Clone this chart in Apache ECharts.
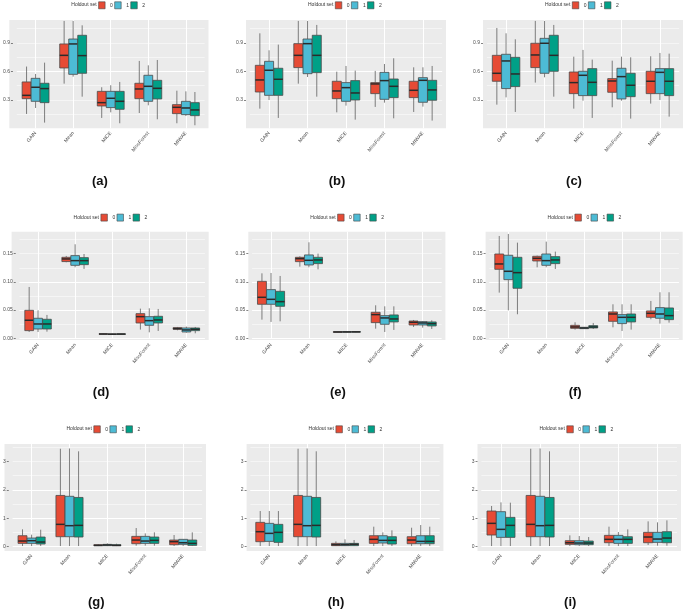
<!DOCTYPE html>
<html>
<head>
<meta charset="utf-8">
<script src="https://cdn.jsdelivr.net/npm/echarts@6/dist/echarts.min.js"></script>
<style>
  html, body { margin: 0; padding: 0; background: #fff; }
  #chart { width: 683px; height: 610px; }
</style>
</head>
<body>
<div id="chart"></div>
<script>
const methods = ['GAIN', 'Mean', 'MICE', 'MissForest', 'MIWAE'];
const holdoutSets = ['0', '1', '2'];
const setColors = ['#E64B35', '#4DBBD5', '#00A087'];
const panelLabels = ['(a)', '(b)', '(c)', '(d)', '(e)', '(f)', '(g)', '(h)', '(i)'];

// tick labels per row of panels
const ticksRow1 = [0.3, 0.6, 0.9];
const ticksRow2 = [0, 0.05, 0.10, 0.15];
const ticksRow3 = [0, 1, 2, 3];

// each panel: one list per holdout set, one box per method
// box = [lower whisker, Q1, median, Q3, upper whisker]
const boxesA = [
  [[0.151,0.312,0.347,0.488,0.650],[0.470,0.635,0.768,0.888,1.130],[0.109,0.235,0.270,0.389,0.432],[0.161,0.312,0.414,0.474,0.709],[0.053,0.154,0.221,0.249,0.396]],
  [[0.214,0.284,0.432,0.526,0.572],[0.544,0.568,0.888,0.940,1.130],[0.168,0.218,0.316,0.389,0.453],[0.242,0.284,0.442,0.558,0.663],[0.130,0.144,0.214,0.284,0.389]],
  [[0.060,0.270,0.418,0.474,0.691],[0.333,0.579,0.765,0.979,1.084],[0.053,0.200,0.284,0.389,0.488],[0.095,0.309,0.421,0.505,0.719],[0.032,0.133,0.193,0.270,0.382]]
];
const boxesB = [
  [[0.207,0.382,0.509,0.663,1.000],[0.470,0.639,0.768,0.891,1.130],[0.168,0.312,0.393,0.495,0.596],[0.225,0.365,0.467,0.481,0.604],[0.172,0.323,0.400,0.495,0.642]],
  [[0.298,0.347,0.611,0.705,0.821],[0.540,0.575,0.891,0.940,1.130],[0.239,0.284,0.428,0.481,0.656],[0.270,0.305,0.502,0.589,0.677],[0.228,0.274,0.505,0.533,0.642]],
  [[0.109,0.347,0.516,0.632,0.881],[0.333,0.586,0.768,0.979,1.088],[0.091,0.298,0.372,0.502,0.607],[0.105,0.323,0.442,0.519,0.737],[0.081,0.295,0.404,0.505,0.656]]
];
const boxesC = [
  [[0.249,0.495,0.579,0.768,1.056],[0.481,0.639,0.772,0.895,1.130],[0.207,0.365,0.481,0.593,0.754],[0.221,0.379,0.498,0.523,0.712],[0.260,0.365,0.495,0.600,0.758]],
  [[0.326,0.418,0.709,0.779,1.000],[0.537,0.579,0.895,0.947,1.130],[0.291,0.344,0.558,0.600,0.825],[0.291,0.309,0.544,0.632,0.754],[0.298,0.365,0.589,0.628,0.793]],
  [[0.172,0.439,0.572,0.747,0.937],[0.333,0.600,0.768,0.979,1.088],[0.109,0.344,0.484,0.628,0.723],[0.102,0.333,0.453,0.579,0.747],[0.123,0.344,0.495,0.628,0.786]]
];
const boxesD = [
  [[0.0112,0.0136,0.0320,0.0496,0.0910],[0.1348,0.1360,0.1407,0.1436,0.1460],[0.0068,0.0073,0.0076,0.0079,0.0084],[0.0154,0.0272,0.0384,0.0437,0.0526],[0.0142,0.0160,0.0171,0.0189,0.0201]],
  [[0.0112,0.0165,0.0254,0.0355,0.0496],[0.1259,0.1294,0.1377,0.1466,0.1667],[0.0065,0.0070,0.0073,0.0077,0.0082],[0.0106,0.0230,0.0313,0.0384,0.0532],[0.0100,0.0112,0.0148,0.0183,0.0207]],
  [[0.0118,0.0165,0.0254,0.0337,0.0414],[0.1230,0.1306,0.1377,0.1430,0.1495],[0.0066,0.0071,0.0075,0.0078,0.0083],[0.0130,0.0272,0.0325,0.0390,0.0520],[0.0089,0.0136,0.0160,0.0183,0.0201]]
];
const boxesE = [
  [[0.0331,0.0603,0.0727,0.1010,0.1152],[0.1270,0.1359,0.1412,0.1436,0.1454],[0.0104,0.0108,0.0112,0.0116,0.0120],[0.0171,0.0278,0.0420,0.0461,0.0585],[0.0201,0.0236,0.0284,0.0307,0.0325]],
  [[0.0290,0.0603,0.0691,0.0863,0.1158],[0.1259,0.1300,0.1383,0.1478,0.1702],[0.0105,0.0109,0.0113,0.0117,0.0121],[0.0112,0.0248,0.0361,0.0402,0.0567],[0.0189,0.0236,0.0272,0.0296,0.0307]],
  [[0.0301,0.0567,0.0650,0.0833,0.1105],[0.1223,0.1324,0.1389,0.1436,0.1501],[0.0106,0.0110,0.0114,0.0118,0.0122],[0.0148,0.0290,0.0343,0.0414,0.0567],[0.0165,0.0219,0.0260,0.0290,0.0319]]
];
const boxesF = [
  [[0.0810,0.1223,0.1318,0.1495,0.1814],[0.1259,0.1371,0.1418,0.1454,0.1466],[0.0154,0.0177,0.0201,0.0230,0.0284],[0.0195,0.0301,0.0431,0.0467,0.0603],[0.0337,0.0372,0.0443,0.0485,0.0662]],
  [[0.0496,0.1040,0.1188,0.1472,0.1850],[0.1259,0.1294,0.1377,0.1495,0.1714],[0.0165,0.0171,0.0183,0.0195,0.0201],[0.0130,0.0260,0.0372,0.0420,0.0603],[0.0260,0.0355,0.0431,0.0544,0.0816]],
  [[0.0426,0.0887,0.1164,0.1436,0.1696],[0.1229,0.1324,0.1389,0.1448,0.1537],[0.0165,0.0183,0.0201,0.0225,0.0272],[0.0154,0.0290,0.0372,0.0431,0.0603],[0.0278,0.0331,0.0402,0.0538,0.0816]]
];
const boxesG = [
  [[0.023,0.117,0.199,0.386,0.609],[0.023,0.351,0.785,1.800,3.440],[0.023,0.035,0.047,0.070,0.094],[0.035,0.105,0.234,0.363,0.656],[0.023,0.070,0.176,0.234,0.410]],
  [[0.023,0.117,0.211,0.304,0.422],[0.023,0.351,0.738,1.770,3.450],[0.023,0.035,0.059,0.082,0.117],[0.035,0.117,0.199,0.363,0.468],[0.023,0.082,0.140,0.258,0.270]],
  [[0.023,0.094,0.164,0.340,0.597],[0.023,0.340,0.749,1.730,3.350],[0.023,0.035,0.047,0.070,0.105],[0.035,0.117,0.222,0.340,0.504],[0.023,0.047,0.117,0.234,0.504]]
];
const boxesH = [
  [[0.023,0.176,0.527,0.855,1.253],[0.023,0.351,0.785,1.800,3.440],[0.023,0.035,0.070,0.117,0.187],[0.023,0.117,0.258,0.386,0.703],[0.023,0.105,0.234,0.351,0.667]],
  [[0.023,0.187,0.468,0.820,1.253],[0.023,0.351,0.738,1.770,3.450],[0.023,0.035,0.070,0.117,0.258],[0.023,0.129,0.222,0.386,0.504],[0.023,0.105,0.187,0.386,0.761]],
  [[0.023,0.152,0.504,0.785,1.253],[0.023,0.340,0.749,1.730,3.350],[0.023,0.035,0.082,0.117,0.234],[0.023,0.094,0.222,0.351,0.574],[0.023,0.105,0.187,0.386,0.703]]
];
const boxesI = [
  [[0.023,0.410,0.820,1.253,1.430],[0.023,0.351,0.785,1.800,3.440],[0.023,0.082,0.140,0.211,0.398],[0.023,0.140,0.258,0.398,0.703],[0.059,0.140,0.340,0.504,0.890]],
  [[0.023,0.328,0.609,1.230,1.557],[0.023,0.351,0.738,1.770,3.450],[0.023,0.070,0.129,0.211,0.375],[0.023,0.117,0.258,0.398,0.515],[0.035,0.152,0.269,0.504,0.855]],
  [[0.023,0.328,0.749,1.030,1.546],[0.023,0.340,0.749,1.730,3.350],[0.023,0.070,0.129,0.199,0.340],[0.023,0.117,0.258,0.351,0.609],[0.035,0.140,0.304,0.527,0.925]]
];

const panelBoxes = [boxesA, boxesB, boxesC, boxesD, boxesE, boxesF, boxesG, boxesH, boxesI];

// axis setup per row
const rowAxis = [
  { max: 1.14,  step: 0.3,  ticks: ticksRow1, digits: 1, minLine: false },
  { max: 0.189, step: 0.05, ticks: ticksRow2, digits: 2, minLine: true },
  { max: 3.607, step: 1,    ticks: ticksRow3, digits: 0, minLine: true }
];

// layout (pixels)
const rowLayout = [
  { top: 20,    bottom: 128.3, zero: 128.3, legendY: 5,     labelY: 181.5 },
  { top: 231.7, bottom: 340,   zero: 338.3, legendY: 217.3, labelY: 392.5 },
  { top: 444,   bottom: 551,   zero: 546.7, legendY: 429,   labelY: 602 }
];
const colLayout = [
  [[9.3, 208.5], [246, 446], [483, 683]],
  [[11.6, 208.7], [248.3, 445.4], [485.6, 682.7]],
  [[4.5, 206], [246.6, 443.4], [477.5, 681]]
];

const FONT = '"Liberation Sans", Arial, Helvetica, sans-serif';
const chart = echarts.init(document.getElementById('chart'));

function boxRenderer(k) {
  return function (params, api) {
    const m = api.value(0);
    const band = api.size([1, 0])[0];
    const xc = api.coord([m, 0])[0] + (k - 1) * 0.24 * band;
    const hw = 0.235 * band / 2;
    const y = [1, 2, 3, 4, 5].map(function (d) { return api.coord([m, api.value(d)])[1]; });
    const whisker = { stroke: '#5f5f5f', lineWidth: 0.8 };
    return {
      type: 'group',
      children: [
        { type: 'line', shape: { x1: xc, y1: y[0], x2: xc, y2: y[1] }, style: whisker },
        { type: 'line', shape: { x1: xc, y1: y[3], x2: xc, y2: y[4] }, style: whisker },
        { type: 'rect', shape: { x: xc - hw, y: y[3], width: 2 * hw, height: y[1] - y[3] },
          style: { fill: api.visual('color'), stroke: '#4a4a4a', lineWidth: 0.8 } },
        { type: 'line', shape: { x1: xc - hw, y1: y[2], x2: xc + hw, y2: y[2] },
          style: { stroke: '#2b2b2b', lineWidth: 1.5 } }
      ]
    };
  };
}

const grid = [], xAxis = [], yAxis = [], series = [], legend = [], graphic = [];

panelBoxes.forEach(function (boxes, i) {
  const row = Math.floor(i / 3), col = i % 3;
  const lr = colLayout[row][col];
  const l = lr[0], r = lr[1];
  const L = rowLayout[row], A = rowAxis[row];
  const inset = (r - l) / 52;

  // grey panel
  grid.push({ left: l, top: L.top, width: r - l, height: L.bottom - L.top,
    show: true, backgroundColor: '#EBEBEB', borderWidth: 0 });
  // data area
  const gi = grid.length;
  grid.push({ left: l + inset, top: L.top, width: r - l - 2 * inset, height: L.zero - L.top, show: false });

  xAxis.push({
    type: 'category', gridIndex: gi, data: methods, boundaryGap: true,
    offset: L.bottom - L.zero,
    axisLine: { show: false },
    axisTick: { alignWithLabel: true, length: 2, lineStyle: { color: '#333', width: 0.6 } },
    axisLabel: { interval: 0, rotate: 50, fontSize: 5, margin: 4, color: '#4D4D4D', fontFamily: FONT },
    splitLine: { show: true, alignWithLabel: true, lineStyle: { color: '#fff', width: 1 } }
  });
  const xi = xAxis.length - 1;

  yAxis.push({
    type: 'value', gridIndex: gi, min: 0, max: A.max, interval: A.step, offset: inset,
    axisLine: { show: false },
    axisTick: { show: true, customValues: A.ticks, length: 2, lineStyle: { color: '#333', width: 0.6 } },
    axisLabel: { customValues: A.ticks, fontSize: 5, margin: 3, color: '#4D4D4D', fontFamily: FONT,
      formatter: function (v) { return Number(v).toFixed(A.digits); } },
    splitLine: { show: true, showMinLine: A.minLine, showMaxLine: false, lineStyle: { color: '#fff', width: 1 } }
  });
  const yi = yAxis.length - 1;
  yAxis.push({
    type: 'value', gridIndex: gi, min: 0, max: A.max, interval: A.step / 2,
    axisLine: { show: false }, axisTick: { show: false }, axisLabel: { show: false },
    splitLine: { show: true, showMinLine: false, showMaxLine: false, lineStyle: { color: '#fff', width: 0.5 } }
  });

  holdoutSets.forEach(function (name, k) {
    series.push({
      type: 'custom', name: name, xAxisIndex: xi, yAxisIndex: yi, z: 3,
      itemStyle: { color: setColors[k] },
      encode: { x: 0, y: [1, 2, 3, 4, 5] },
      data: boxes[k].map(function (b, m) { return [m].concat(b); }),
      renderItem: boxRenderer(k)
    });
  });

  legend.push({
    data: holdoutSets, left: l + 89, top: L.legendY - 3.5, padding: 0,
    icon: 'rect', itemWidth: 6.5, itemHeight: 7, itemGap: 1.5, selectedMode: false,
    itemStyle: { borderColor: '#444', borderWidth: 0.6 },
    textStyle: { fontSize: 5, color: '#333', fontFamily: FONT }
  });

  graphic.push({
    type: 'text', x: l + 62, y: L.legendY,
    style: { text: 'Holdout set', fontSize: 5, fontFamily: FONT, fill: '#333', verticalAlign: 'middle' }
  });
  graphic.push({
    type: 'text', x: (l + r) / 2 - 9, y: L.labelY,
    style: { text: panelLabels[i], fontSize: 13, fontWeight: 'bold', fontFamily: FONT, fill: '#111',
      align: 'center', verticalAlign: 'middle' }
  });
});

chart.setOption({
  animation: false,
  backgroundColor: '#fff',
  grid: grid,
  xAxis: xAxis,
  yAxis: yAxis,
  legend: legend,
  graphic: graphic,
  series: series
});
</script>
</body>
</html>
